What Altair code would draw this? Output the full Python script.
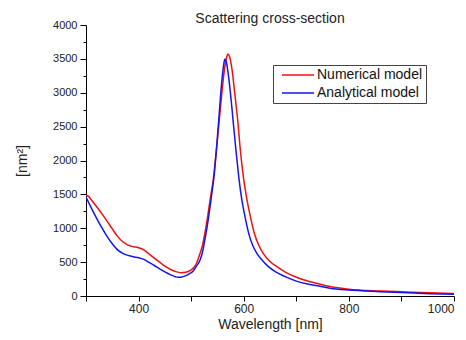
import altair as alt
import pandas as pd

# Numerical model (red)
num_wl = [300, 305, 310, 320, 330, 340, 350, 360, 370, 380, 390, 400, 410, 420, 430, 440,
          450, 460, 470, 480, 490, 500, 505, 510, 517, 522, 526, 531, 536, 539, 542, 546,
          550, 553, 556, 559, 562, 565, 568, 570, 573, 576, 579, 582, 585, 589, 593, 599,
          606, 613, 620, 628, 637, 650, 663, 680, 698, 720, 740, 764, 800, 859, 900, 954, 1000]
num_val = [1486, 1470, 1420, 1320, 1215, 1105, 990, 880, 800, 750, 728, 712, 680, 620, 560, 500,
           440, 395, 362, 344, 350, 385, 420, 480, 630, 760, 925, 1150, 1417, 1560, 1712, 2000,
           2302, 2560, 2800, 3040, 3260, 3430, 3540, 3572, 3535, 3430, 3270, 3060, 2850, 2560, 2200, 1780,
           1430, 1160, 930, 760, 630, 510, 433, 350, 285, 225, 185, 140, 100, 74, 62, 48, 35]

# Analytical model (blue)
ana_wl = [300, 310, 320, 330, 340, 350, 360, 370, 380, 390, 400, 410, 420, 430, 440, 450,
          460, 470, 475, 480, 490, 497, 504, 510, 517, 522, 526, 531, 536, 540, 544, 547,
          550, 553, 556, 559, 562, 564, 567, 570, 573, 576, 580, 585, 590, 596, 603, 610,
          617, 625, 636, 647, 660, 679, 700, 720, 740, 764, 800, 859, 900, 954, 1000]
ana_val = [1460, 1300, 1150, 1010, 880, 770, 680, 630, 600, 580, 565, 540, 495, 450, 400, 355,
           315, 285, 276, 278, 300, 330, 370, 440, 531, 660, 827, 1050, 1318, 1550, 1800, 2060,
           2350, 2650, 2960, 3220, 3420, 3494, 3450, 3310, 3120, 2900, 2570, 2170, 1800, 1440, 1150, 910,
           750, 630, 520, 433, 360, 285, 220, 180, 150, 115, 88, 64, 50, 34, 25]

series = ["Numerical model", "Analytical model"]
colors = ["#ee1111", "#1515ee"]

df = pd.concat([
    pd.DataFrame({"wl": num_wl, "val": num_val, "model": series[0], "order": 0}),
    pd.DataFrame({"wl": ana_wl, "val": ana_val, "model": series[1], "order": 1}),
])

font = "Liberation Sans"

chart = alt.Chart(df).mark_line(strokeWidth=1.5, interpolate="monotone", clip=True).encode(
    x=alt.X("wl:Q",
            scale=alt.Scale(domain=[300, 1000], nice=False),
            axis=alt.Axis(title="Wavelength [nm]",
                          values=list(range(300, 1001, 100)),
                          labelExpr="datum.value % 200 === 0 ? datum.label : ''",
                          format="d", labelFontSize=12,
                          grid=False, tickSize=5, labelPadding=2,
                          titlePadding=3)),
    y=alt.Y("val:Q",
            scale=alt.Scale(domain=[0, 4000], nice=False),
            axis=alt.Axis(title="[nm²]",
                          values=list(range(0, 4001, 250)),
                          labelExpr="datum.value % 500 === 0 ? datum.label : ''",
                          format="d", labelFontSize=11,
                          grid=False,
                          tickSize={"condition": {"test": "datum.value % 500 === 0", "value": 6}, "value": 3},
                          labelPadding=3, titlePadding=23)),
    color=alt.Color("model:N",
                    scale=alt.Scale(domain=series, range=colors),
                    legend=alt.Legend(title=None, orient="none", legendX=187, legendY=40,
                                      symbolType="M-0.2,0H6.2", symbolSize=100,
                                      symbolStrokeWidth=1.5, labelFontSize=14,
                                      labelFont=font, labelColor="#111",
                                      strokeColor="#444", padding=3, rowPadding=4,
                                      labelOffset=27, fillColor="white")),
    order="order:Q",
).properties(
    width=368, height=271,
    title=alt.TitleParams("Scattering cross-section", fontSize=14, font=font,
                          fontWeight="normal", color="#222", offset=3, frame="group", dy=10),
    autosize=alt.AutoSizeParams(type="none"),
    padding={"left": 78, "top": 17, "right": 4, "bottom": 36},
).configure_view(stroke=None).configure_axis(
    domainColor="#000", tickColor="#000", labelFont=font, titleFont=font,
    titleFontSize=14, labelColor="#222", titleColor="#222",
    titleFontWeight="normal",
)

chart.save("out.html", embed_options={"renderer": "svg", "actions": False})
